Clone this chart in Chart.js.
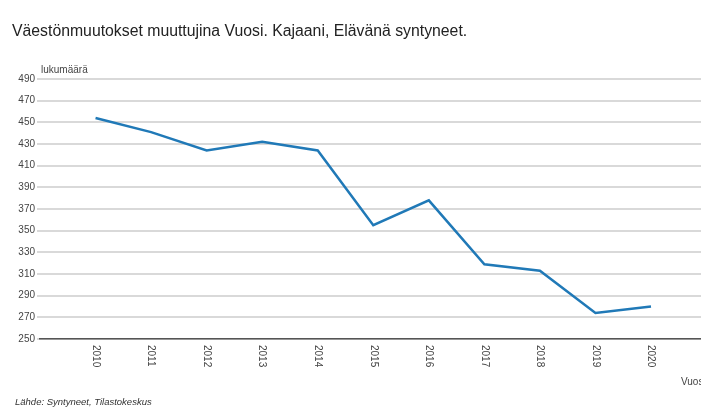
<!DOCTYPE html>
<html>
<head>
<meta charset="utf-8">
<script src="https://cdn.jsdelivr.net/npm/chart.js@4"></script>
<style>
  html, body { margin: 0; padding: 0; background: #fff; }
  #wrap { position: relative; width: 701px; height: 410px; }
</style>
</head>
<body>
<div id="wrap"><canvas id="births" width="701" height="410"></canvas></div>
<script>
// data
const years = [2010, 2011, 2012, 2013, 2014, 2015, 2016, 2017, 2018, 2019, 2020];
const births = [454, 441, 424, 432, 424, 355, 378, 319, 313, 274, 280];
const yTicks = [250, 270, 290, 310, 330, 350, 370, 390, 410, 430, 450, 470, 490];

const titleText = 'Väestönmuutokset muuttujina Vuosi. Kajaani, Elävänä syntyneet.';
const yAxisTitle = 'lukumäärä';
const xAxisTitle = 'Vuosi';
const sourceText = 'Lähde: Syntyneet, Tilastokeskus';

const FONT = '"Liberation Sans", Arial, sans-serif';

// texts around the plot + rotated year labels
const extras = {
    id: 'extras',
    afterDraw(chart) {
        const ctx = chart.ctx;
        const x = chart.scales.x;
        const area = chart.chartArea;
        ctx.save();
        ctx.fillStyle = '#222';
        ctx.font = '15.8px ' + FONT;
        ctx.textBaseline = 'alphabetic';
        ctx.textAlign = 'left';
        ctx.fillText(titleText, 12, 36);

        ctx.fillStyle = '#444';
        ctx.font = '10px ' + FONT;
        ctx.fillText(yAxisTitle, 41, 73);

        ctx.fillText(xAxisTitle, 681, 385);

        ctx.font = 'italic 9.5px ' + FONT;
        ctx.fillStyle = '#333';
        ctx.fillText(sourceText, 15, 405);

        // year labels, reading top to bottom
        ctx.font = '10px ' + FONT;
        ctx.fillStyle = '#444';
        years.forEach(function (yr) {
            const px = x.getPixelForValue(yr);
            ctx.save();
            ctx.translate(px, area.bottom + 6);
            ctx.rotate(Math.PI / 2);
            ctx.textAlign = 'left';
            ctx.textBaseline = 'middle';
            ctx.fillText(String(yr), 0, 0);
            ctx.restore();
        });
        ctx.restore();
    }
};

const ctx = document.getElementById('births').getContext('2d');
const birthsChart = new Chart(ctx, {
    type: 'line',
    data: {
        datasets: [{
            data: years.map((yr, i) => ({ x: yr, y: births[i] })),
            borderColor: '#2079b7',
            borderWidth: 2.5,
            pointRadius: 0,
            tension: 0,
            fill: false
        }]
    },
    options: {
        responsive: false,
        animation: false,
        layout: {
            padding: { top: 79, left: 0, right: 0, bottom: 0 }
        },
        plugins: {
            legend: { display: false },
            tooltip: { enabled: false }
        },
        scales: {
            x: {
                type: 'linear',
                min: 2009,
                max: 2020.9,
                ticks: { display: false },
                grid: { display: false },
                border: { display: true, color: '#555', width: 1.5 },
                afterFit: function (scale) { scale.height = 71; }
            },
            y: {
                min: yTicks[0],
                max: yTicks[yTicks.length - 1],
                afterBuildTicks: function (scale) {
                    scale.ticks = yTicks.map(v => ({ value: v }));
                },
                ticks: {
                    color: '#444',
                    font: { family: FONT, size: 10 },
                    padding: 2
                },
                grid: {
                    color: '#d9d9d9',
                    lineWidth: 2,
                    tickLength: 3
                },
                border: { display: false },
                afterFit: function (scale) { scale.width = 40; }
            }
        }
    },
    plugins: [extras]
});
</script>
</body>
</html>
